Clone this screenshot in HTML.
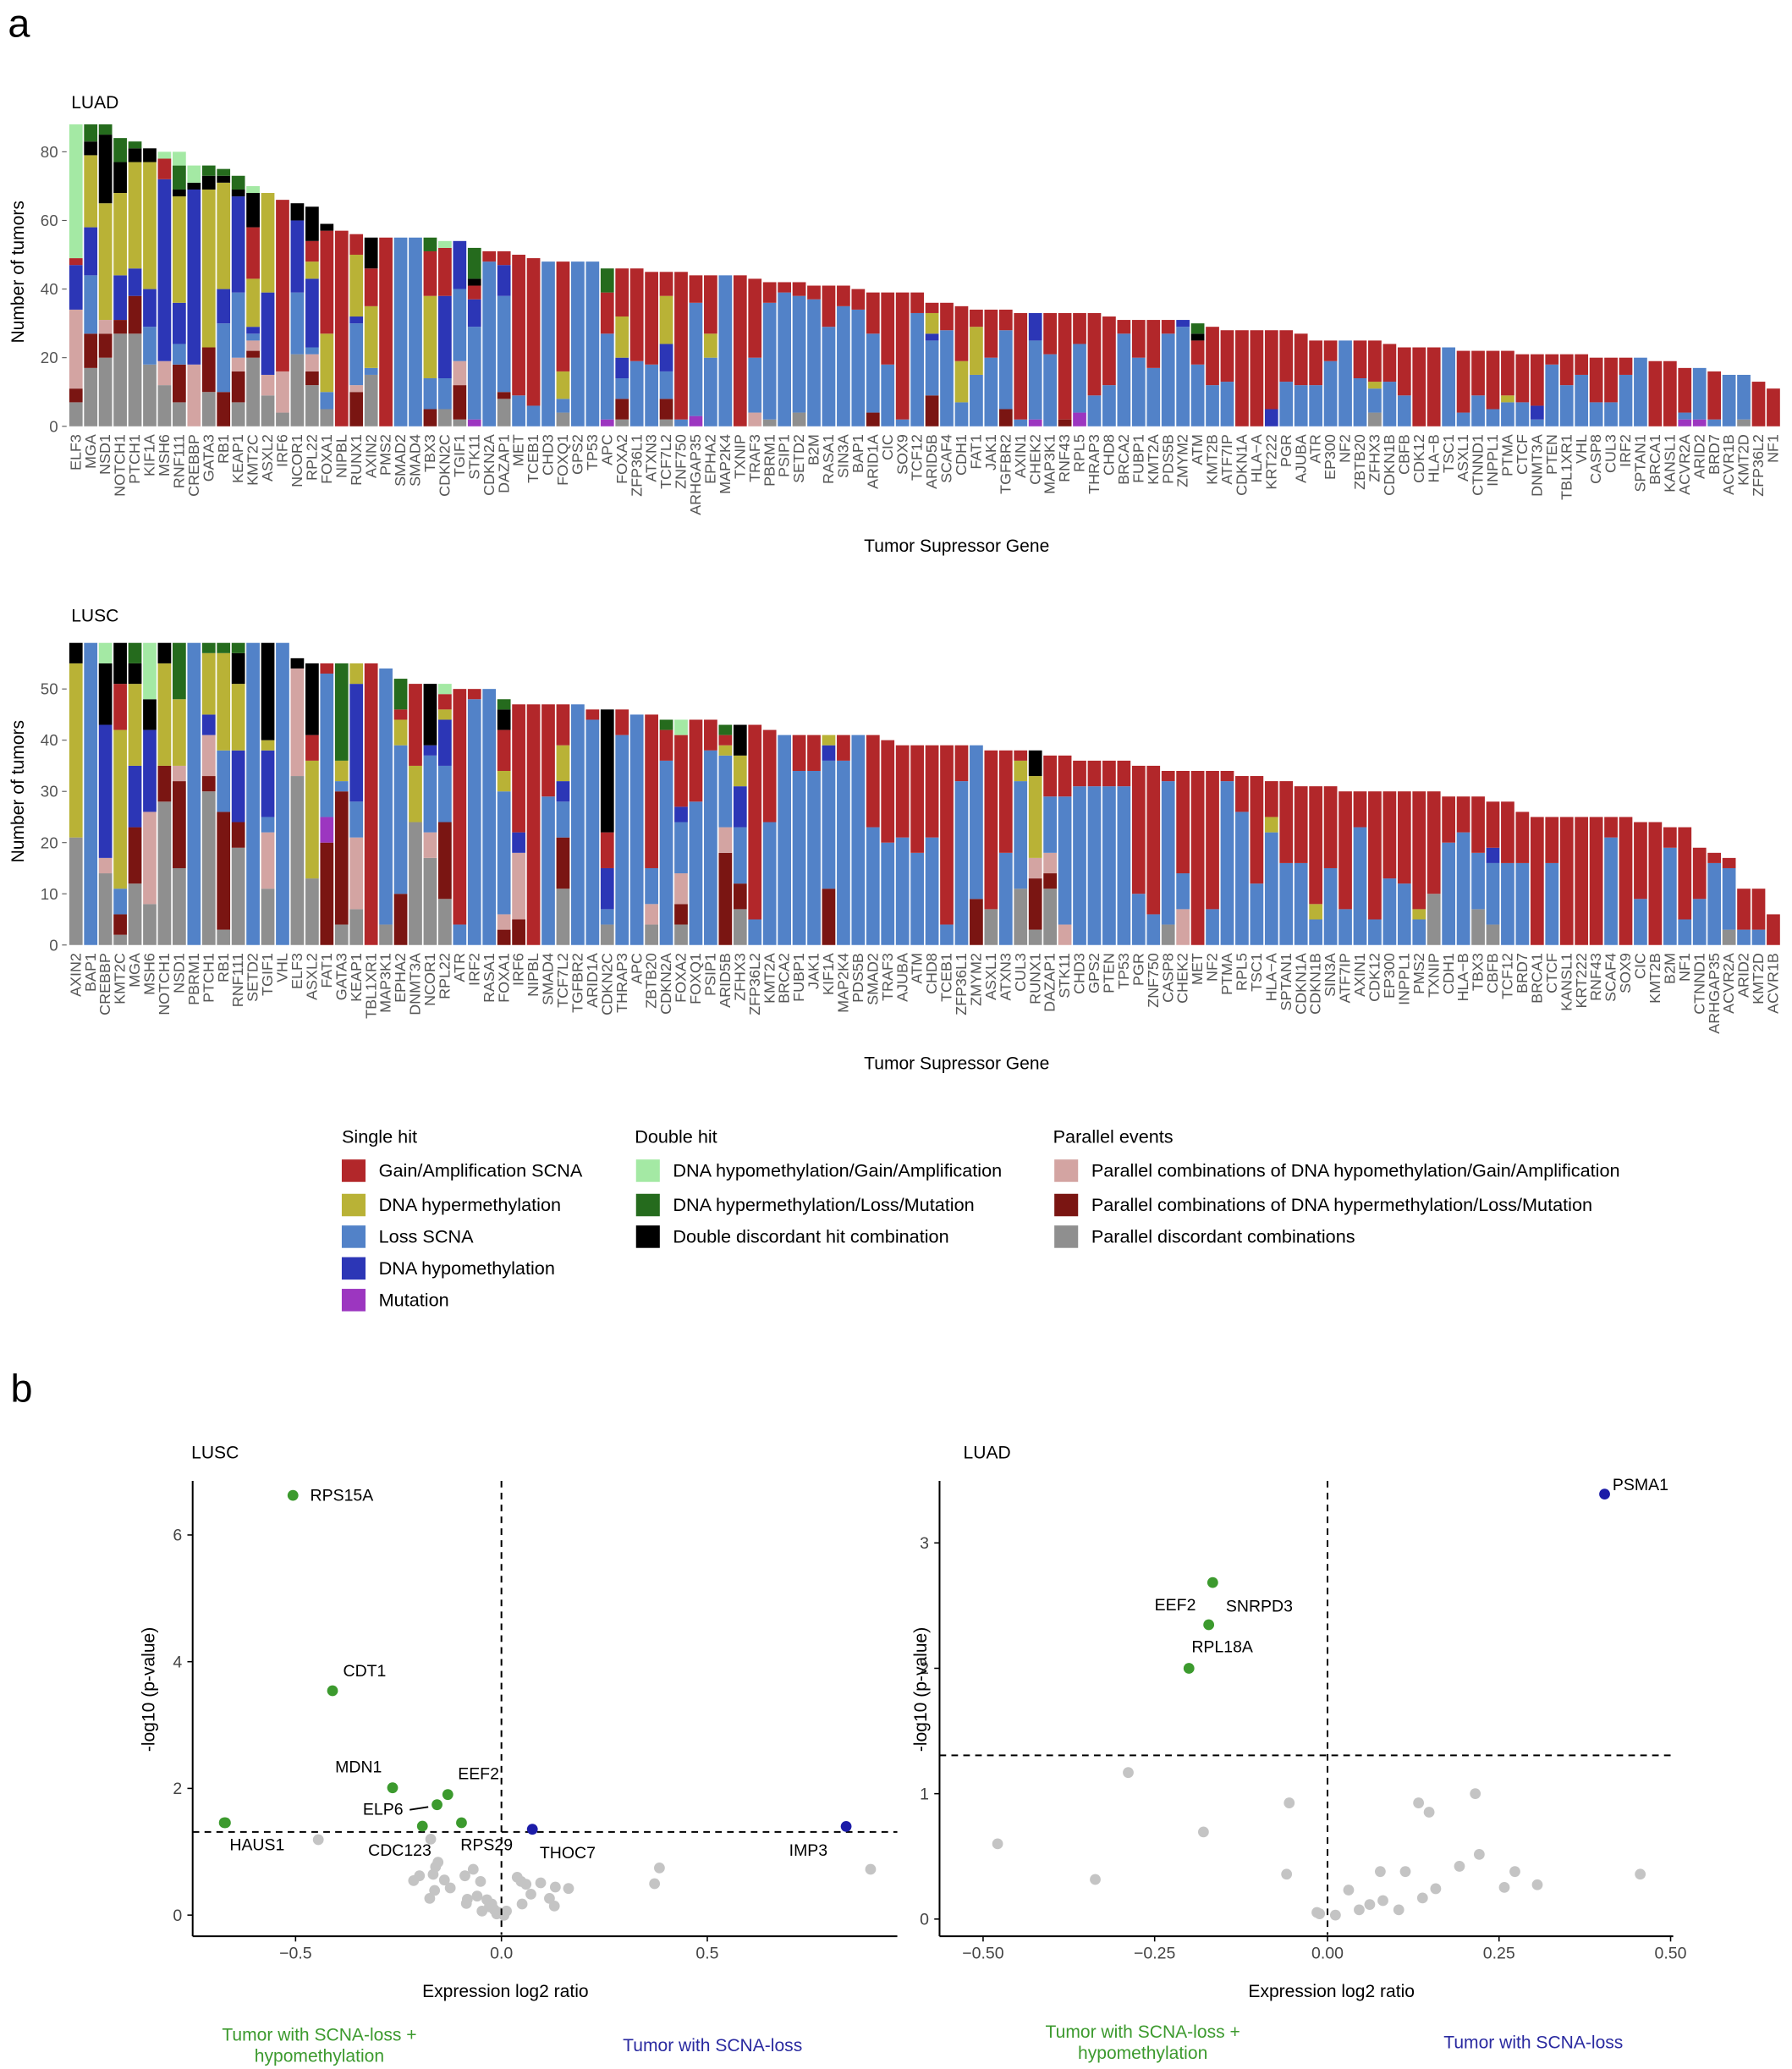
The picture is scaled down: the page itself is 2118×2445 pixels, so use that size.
<!DOCTYPE html>
<html><head><meta charset="utf-8">
<style>
html,body{margin:0;padding:0;background:#fff;}
svg{display:block;font-family:"Liberation Sans",Arial,sans-serif;}
</style></head>
<body>
<svg id="s" width="2118" height="2445" viewBox="0 0 1358 1567.6" preserveAspectRatio="none" xmlns="http://www.w3.org/2000/svg">
<rect x="0" y="0" width="1358" height="1567.6" fill="#fff"/>
<g id="g"></g>
</svg>
<script>
var C={g:'#8f8f8f',d:'#7a1512',p:'#d3a4a2',b:'#5282c8',h:'#2c36b6',o:'#b9b236',r:'#b2272a',m:'#9c36c0',l:'#a4e9a4',e:'#256b1d',k:'#000000'};
var NS='http://www.w3.org/2000/svg';
var G=document.getElementById('g');
function el(t,a,txt){var e=document.createElementNS(NS,t);for(var k in a)e.setAttribute(k,a[k]);if(txt!=null)e.textContent=txt;G.appendChild(e);return e;}
function text(x,y,s,a){a=a||{};var o={x:x,y:y,'font-size':a.fs||13,fill:a.fill||'#000'};if(a.anchor)o['text-anchor']=a.anchor;if(a.tr)o.transform=a.tr;if(a.fw)o['font-weight']=a.fw;return el('text',o,s);}

var LUAD=[
['ELF3','g7 d11 p34 h47 r49 l88'],['MGA','g17 d27 b44 h58 o79 k83 e88'],['NSD1','g20 d27 p31 o65 k85 e88'],
['NOTCH1','g27 d31 h44 o68 k77 e84'],['PTCH1','g27 d38 h46 o77 k81 e83'],['KIF1A','g18 b29 h40 o77 k81'],
['MSH6','g12 p19 h72 r78 l80'],['RNF111','g7 d18 b24 h36 o67 k69 e76 l80'],['CREBBP','p18 h69 k71 l76'],
['GATA3','g10 d23 o69 k73 e76'],['RB1','d10 b30 h40 o71 k73 e75'],['KEAP1','g7 d16 p20 b39 h67 k69 e73'],
['KMT2C','g20 d22 p25 b27 h29 o43 r58 k68 l70'],['ASXL2','g9 p15 h39 o68'],['IRF6','g4 p16 r66'],
['NCOR1','g21 b39 h60 k65'],['RPL22','g12 d16 p21 b23 h43 o48 r54 k64'],['FOXA1','g5 b10 o27 r57 k59'],
['NIPBL','r57'],['RUNX1','d10 p12 b30 h32 o50 r56'],['AXIN2','g15 b17 o35 r46 k55'],['PMS2','r55'],
['SMAD2','b55'],['SMAD4','b55'],['TBX3','d5 b14 o38 r51 e55'],['CDKN2C','g5 b14 h38 r52 l54'],
['TGIF1','g2 d12 p19 b40 h54'],['STK11','m2 b29 h37 r41 k43 e52'],['CDKN2A','b48 r51'],
['DAZAP1','g8 d10 b38 h47 r51'],['MET','b9 r50'],['TCEB1','b6 r49'],['CHD3','b48'],['FOXQ1','g4 b8 o16 r48'],
['GPS2','b48'],['TP53','b48'],['APC','m2 b27 r39 e46'],
['FOXA2','g2 d8 b14 h20 o32 r46'],['ZFP36L1','b19 r46'],['ATXN3','b18 r45'],['TCF7L2','g2 d8 b16 h24 o38 r45'],
['ZNF750','b2 r45'],['ARHGAP35','m3 b36 r44'],['EPHA2','b20 o27 r44'],['MAP2K4','b44'],['TXNIP','r44'],
['TRAF3','p4 b20 r43'],['PBRM1','g2 b36 r42'],['PSIP1','b39 r42'],['SETD2','g4 b38 r42'],['B2M','b37 r41'],
['RASA1','b29 r41'],['SIN3A','b35 r41'],['BAP1','b34 r40'],['ARID1A','d4 b27 r39'],['CIC','b18 r39'],
['SOX9','b2 r39'],['TCF12','b33 r39'],['ARID5B','d9 b25 h27 o33 r36'],['SCAF4','b28 r36'],
['CDH1','b7 o19 r35'],['FAT1','b15 o29 r34'],['JAK1','b20 r34'],['TGFBR2','d5 b28 r34'],['AXIN1','b2 r33'],
['CHEK2','m2 b25 h33'],['MAP3K1','b21 r33'],['RNF43','d2 r33'],['RPL5','m4 b24 r33'],['THRAP3','b9 r33'],
['CHD8','b12 r32'],['BRCA2','b27 r31'],['FUBP1','b20 r31'],['KMT2A','b17 r31'],['PDS5B','b27 r31'],
['ZMYM2','b29 h31'],
['ATM','b18 r25 k27 e30'],['KMT2B','b12 r29'],['ATF7IP','b13 r28'],['CDKN1A','r28'],['HLA\u2212A','r28'],
['KRT222','h5 r28'],['PGR','b13 r28'],['AJUBA','b12 r27'],['ATR','b12 r25'],['EP300','b19 r25'],['NF2','b25'],
['ZBTB20','b14 r25'],['ZFHX3','g4 b11 o13 r25'],['CDKN1B','b13 r24'],['CBFB','b9 r23'],['CDK12','r23'],
['HLA\u2212B','r23'],['TSC1','b23'],['ASXL1','b4 r22'],['CTNND1','b9 r22'],['INPPL1','b5 r22'],
['PTMA','b7 o9 r22'],['CTCF','b7 r21'],['DNMT3A','b2 h6 r21'],['PTEN','b18 r21'],['TBL1XR1','b12 r21'],
['VHL','b15 r21'],['CASP8','b7 r20'],['CUL3','b7 r20'],['IRF2','b15 r20'],['SPTAN1','b20'],['BRCA1','r19'],
['KANSL1','r19'],['ACVR2A','m2 b4 r17'],['ARID2','m2 b17'],['BRD7','b2 r16'],['ACVR1B','b15'],
['KMT2D','g2 b15'],['ZFP36L2','r13'],['NF1','r11']];

var LUSC=[
['AXIN2','g21 o55 k59'],['BAP1','b59'],['CREBBP','g14 p17 h43 k55 l59'],['KMT2C','g2 d6 b11 o42 r51 k59'],
['MGA','g12 d23 h35 o51 k55 e59'],['MSH6','g8 p26 h42 k48 l59'],['NOTCH1','g28 d35 o55 k59'],
['NSD1','g15 d32 p35 o48 e59'],['PBRM1','b59'],['PTCH1','g30 d33 p41 h45 o57 e59'],
['RB1','g3 d26 b38 o57 e59'],['RNF111','g19 d24 h38 o51 k57 e59'],['SETD2','b59'],
['TGIF1','g11 p22 b25 h38 o40 k59'],['VHL','b59'],['ELF3','g33 p54 k56'],['ASXL2','g13 o36 r41 k55'],
['FAT1','d20 m25 b53 r55'],['GATA3','g4 d30 b32 o36 e55'],['KEAP1','g7 p21 b28 h51 o55'],['TBL1XR1','r55'],
['MAP3K1','g4 b54'],['EPHA2','d10 b39 o44 r46 e52'],['DNMT3A','g24 o35 r51'],['NCOR1','g17 p22 b37 h39 k51'],
['RPL22','g9 d24 b35 h44 o46 r49 l51'],['ATR','b4 r50'],['IRF2','b48 r50'],['RASA1','b50'],
['FOXA1','d3 p6 b30 o34 r42 k46 e48'],['IRF6','d5 p18 h22 r47'],['NIPBL','r47'],['SMAD4','b29 r47'],
['TCF7L2','g11 d21 b28 h32 o39 r47'],['TGFBR2','b47'],['ARID1A','b44 r46'],['CDKN2C','g4 b7 h15 r22 k46'],
['THRAP3','b41 r46'],['APC','b45'],['ZBTB20','g4 p8 b15 r45'],['CDKN2A','b36 r42 e44'],
['FOXA2','g4 d8 p14 b24 h27 r41 l44'],['FOXQ1','b28 r44'],['PSIP1','b38 r44'],
['ARID5B','d18 p23 b37 o39 r41 e43'],['ZFHX3','g7 d12 b23 h31 o37 k43'],['ZFP36L2','b5 r43'],
['KMT2A','b24 r42'],['BRCA2','b41'],['FUBP1','b34 r41'],['JAK1','b34 r41'],['KIF1A','d11 b36 h39 o41'],
['MAP2K4','b36 r41'],['PDS5B','b41'],['SMAD2','b23 r41'],['TRAF3','b20 r40'],['AJUBA','b21 r39'],
['ATM','b18 r39'],['CHD8','b21 r39'],['TCEB1','b4 r39'],['ZFP36L1','b32 r39'],['ZMYM2','d9 b39'],
['ASXL1','g7 r38'],['ATXN3','b18 r38'],['CUL3','g11 b32 o36 r38'],['RUNX1','g3 d13 p17 o33 k38'],
['DAZAP1','g11 d14 p18 b29 r37'],['STK11','p4 b29 r37'],['CHD3','b31 r36'],['GPS2','b31 r36'],
['PTEN','b31 r36'],['TP53','b31 r36'],['PGR','b10 r35'],['ZNF750','b6 r35'],['CASP8','g4 b32 r34'],
['CHEK2','p7 b14 r34'],
['MET','r34'],['NF2','b7 r34'],['PTMA','b32 r34'],['RPL5','b26 r33'],['TSC1','b12 r33'],
['HLA\u2212A','b22 o25 r32'],['SPTAN1','b16 r32'],['CDKN1A','b16 r31'],['CDKN1B','b5 o8 r31'],['SIN3A','b15 r31'],
['ATF7IP','b7 r30'],['AXIN1','b23 r30'],['CDK12','b5 r30'],['EP300','b13 r30'],['INPPL1','b12 r30'],
['PMS2','b5 o7 r30'],['TXNIP','g10 r30'],['CDH1','b20 r29'],['HLA\u2212B','b22 r29'],['TBX3','g7 b18 r29'],
['CBFB','g4 b16 h19 r28'],['TCF12','b16 r28'],['BRD7','b16 r26'],['BRCA1','r25'],['CTCF','b16 r25'],
['KANSL1','r25'],['KRT222','r25'],['RNF43','r25'],['SCAF4','b21 r25'],['SOX9','r25'],['CIC','b9 r24'],
['KMT2B','r24'],['B2M','b19 r23'],['NF1','b5 r23'],['CTNND1','b9 r19'],['ARHGAP35','b16 r18'],
['ACVR2A','g3 b15 r17'],['ARID2','b3 r11'],['KMT2D','b3 r11'],['ACVR1B','r6']];

function barChart(data,base,ppu,ticks,title,titleY,xlabY){
  var x0=52.5,x1=1350,n=data.length,pitch=(x1-x0)/n,w=pitch-1.1;
  data.forEach(function(d,i){
    var x=x0+i*pitch,prev=0;
    d[1].split(' ').forEach(function(s){
      var c=s[0],v=parseFloat(s.slice(1));
      el('rect',{x:x.toFixed(2),y:(base-v*ppu).toFixed(2),width:w.toFixed(2),height:((v-prev)*ppu).toFixed(2),fill:C[c]});
      prev=v;
    });
    var cx=x+w/2+3.6;
    text(cx,base+6,d[0],{fs:11.5,fill:'#555',anchor:'end',tr:'rotate(-90 '+cx.toFixed(2)+' '+(base+6)+')'});
  });
  ticks.forEach(function(t){
    var y=base-t*ppu;
    text(44,y+4.2,String(t),{fs:12,fill:'#555',anchor:'end'});
    el('line',{x1:47,x2:50.5,y1:y,y2:y,stroke:'#555','stroke-width':0.7});
  });
  text(54,titleY,title,{fs:13.5});
  var my=base-ppu*(ticks[ticks.length-1]/2+5);
  text(18,my,'Number of tumors',{fs:13.5,anchor:'middle',tr:'rotate(-90 18 '+my+')'});
  text(725,xlabY,'Tumor Supressor Gene',{fs:13.5,anchor:'middle'});
}
text(6,28,'a',{fs:30});
text(8,1062,'b',{fs:30});
barChart(LUAD,323,2.6,[0,20,40,60,80],'LUAD',82,418);
barChart(LUSC,716,3.88,[0,10,20,30,40,50],'LUSC',471,810);

// legend
function leg(x,y,c,s){el('rect',{x:x,y:y-8.5,width:18,height:17,fill:c});text(x+28,y+4.5,s,{fs:13.9});}
text(259,866,'Single hit',{fs:13.9});
leg(259,887,C.r,'Gain/Amplification SCNA');leg(259,913,C.o,'DNA hypermethylation');leg(259,937,C.b,'Loss SCNA');
leg(259,961,C.h,'DNA hypomethylation');leg(259,985,C.m,'Mutation');
text(481,866,'Double hit',{fs:13.9});
leg(482,887,C.l,'DNA hypomethylation/Gain/Amplification');leg(482,913,C.e,'DNA hypermethylation/Loss/Mutation');
leg(482,937,C.k,'Double discordant hit combination');
text(798,866,'Parallel events',{fs:13.9});
leg(799,887,C.p,'Parallel combinations of DNA hypomethylation/Gain/Amplification');
leg(799,913,C.d,'Parallel combinations of DNA hypermethylation/Loss/Mutation');
leg(799,937,C.g,'Parallel discordant combinations');

// volcano LUSC
var GR='#3c9a2e',BL='#1c1ca8',GY='#c4c4c4';
function dot(x,y,c){el('circle',{cx:x,cy:y,r:4.1,fill:c});}
function zx(z){return (200+z/1.731)/1.5597;} function zy(z){return (2050+z/3)/1.5597;}
[[305,372],[535,370],[550,452],[545,468],[540,495],[512,500],[500,517],[563,515],[575,543],[543,552],[533,580],[605,500],[622,477],[637,520],[610,583],[608,598],[630,572],[640,625],[650,585],[660,600],[665,620],[675,630],[690,625],[685,640],[712,505],[720,520],[730,530],[740,565],[722,600],[760,525],[790,540],[778,580],[788,607],[817,545],[993,528],[1003,472],[1435,477],[655,610],[670,635]].forEach(function(p){dot(zx(p[0]),zy(p[1]),GY);});
el('line',{x1:146,x2:680,y1:1388,y2:1388,stroke:'#000','stroke-width':1.3,'stroke-dasharray':'5,4'});
el('line',{x1:380,x2:380,y1:1122,y2:1466,stroke:'#000','stroke-width':1.3,'stroke-dasharray':'5,4'});
[[222,1133],[252,1281],[170,1381]].forEach(function(p){dot(p[0],p[1],GR);});
[[115,312],[457,188],[570,212],[548,248],[518,324],[598,312]].forEach(function(p){dot(zx(p[0]),zy(p[1]),GR);});
dot(zx(743),zy(335),BL);dot(zx(1385),zy(325),BL);
el('line',{x1:zx(492),y1:zy(266),x2:zx(530),y2:zy(256),stroke:'#000','stroke-width':1.2});
var vl=[['RPS15A',235,1137],['CDT1',260,1270],['MDN1',254,1343],['EEF2',347,1348],['ELP6',275,1375],['HAUS1',174,1402],['CDC123',279,1406],['RPS29',349,1402],['THOC7',409,1408],['IMP3',598,1406]];
vl.forEach(function(t){text(t[1],t[2],t[0],{fs:12.5});});
el('line',{x1:146,x2:146,y1:1122,y2:1467,stroke:'#000','stroke-width':1.3});
el('line',{x1:146,x2:680,y1:1467,y2:1467,stroke:'#000','stroke-width':1.3});
[[0,1451],[2,1355],[4,1259],[6,1163]].forEach(function(t){text(138,t[1]+4.3,String(t[0]),{fs:12.5,fill:'#444',anchor:'end'});el('line',{x1:142,x2:146,y1:t[1],y2:t[1],stroke:'#000','stroke-width':1});});
[['\u22120.5',224],['0.0',380],['0.5',536]].forEach(function(t){text(t[1],1484,t[0],{fs:12.5,fill:'#444',anchor:'middle'});el('line',{x1:t[1],x2:t[1],y1:1467,y2:1471,stroke:'#000','stroke-width':1});});
text(145,1105,'LUSC',{fs:13.5});
text(117,1280,'-log10 (p-value)',{fs:13.5,anchor:'middle',tr:'rotate(-90 117 1280)'});
text(383,1513,'Expression log2 ratio',{fs:13.5,anchor:'middle'});
text(242,1546,'Tumor with SCNA-loss +',{fs:13.5,anchor:'middle',fill:'#3c9a2e'});
text(242,1562,'hypomethylation',{fs:13.5,anchor:'middle',fill:'#3c9a2e'});
text(540,1554,'Tumor with SCNA-loss',{fs:13.5,anchor:'middle',fill:'#2a2aa0'});

// volcano LUAD
[[756,1397],[830,1424],[855,1343],[912,1388],[977,1366],[975,1420],[1000,1450],[1012,1451],[1022,1432],[1030,1447],[1038,1443],[1046,1418],[1048,1440],[1065,1418],[1075,1366],[1083,1373],[1078,1438],[1088,1431],[1106,1414],[1118,1359],[1121,1405],[1140,1430],[1148,1418],[1165,1428],[1243,1420],[998,1449],[1060,1447]].forEach(function(p){dot(p[0],p[1],GY);});
el('line',{x1:712,x2:1268,y1:1330,y2:1330,stroke:'#000','stroke-width':1.3,'stroke-dasharray':'5,4'});
el('line',{x1:1006,x2:1006,y1:1122,y2:1466,stroke:'#000','stroke-width':1.3,'stroke-dasharray':'5,4'});
dot(919,1199,GR);dot(916,1231,GR);dot(901,1264,GR);dot(1216,1132,BL);
[['PSMA1',1222,1129],['EEF2',875,1220],['SNRPD3',929,1221],['RPL18A',903,1252]].forEach(function(t){text(t[1],t[2],t[0],{fs:12.5});});
el('line',{x1:712,x2:712,y1:1122,y2:1467,stroke:'#000','stroke-width':1.3});
el('line',{x1:712,x2:1268,y1:1467,y2:1467,stroke:'#000','stroke-width':1.3});
[[0,1454],[1,1359],[2,1264],[3,1169]].forEach(function(t){text(704,t[1]+4.3,String(t[0]),{fs:12.5,fill:'#444',anchor:'end'});el('line',{x1:708,x2:712,y1:t[1],y2:t[1],stroke:'#000','stroke-width':1});});
[['\u22120.50',745],['\u22120.25',875],['0.00',1006],['0.25',1136],['0.50',1266]].forEach(function(t){text(t[1],1484,t[0],{fs:12.5,fill:'#444',anchor:'middle'});el('line',{x1:t[1],x2:t[1],y1:1467,y2:1471,stroke:'#000','stroke-width':1});});
text(730,1105,'LUAD',{fs:13.5});
text(702,1280,'-log10 (p-value)',{fs:13.5,anchor:'middle',tr:'rotate(-90 702 1280)'});
text(1009,1513,'Expression log2 ratio',{fs:13.5,anchor:'middle'});
text(866,1544,'Tumor with SCNA-loss +',{fs:13.5,anchor:'middle',fill:'#3c9a2e'});
text(866,1560,'hypomethylation',{fs:13.5,anchor:'middle',fill:'#3c9a2e'});
text(1162,1552,'Tumor with SCNA-loss',{fs:13.5,anchor:'middle',fill:'#2a2aa0'});
</script>
</body></html>
